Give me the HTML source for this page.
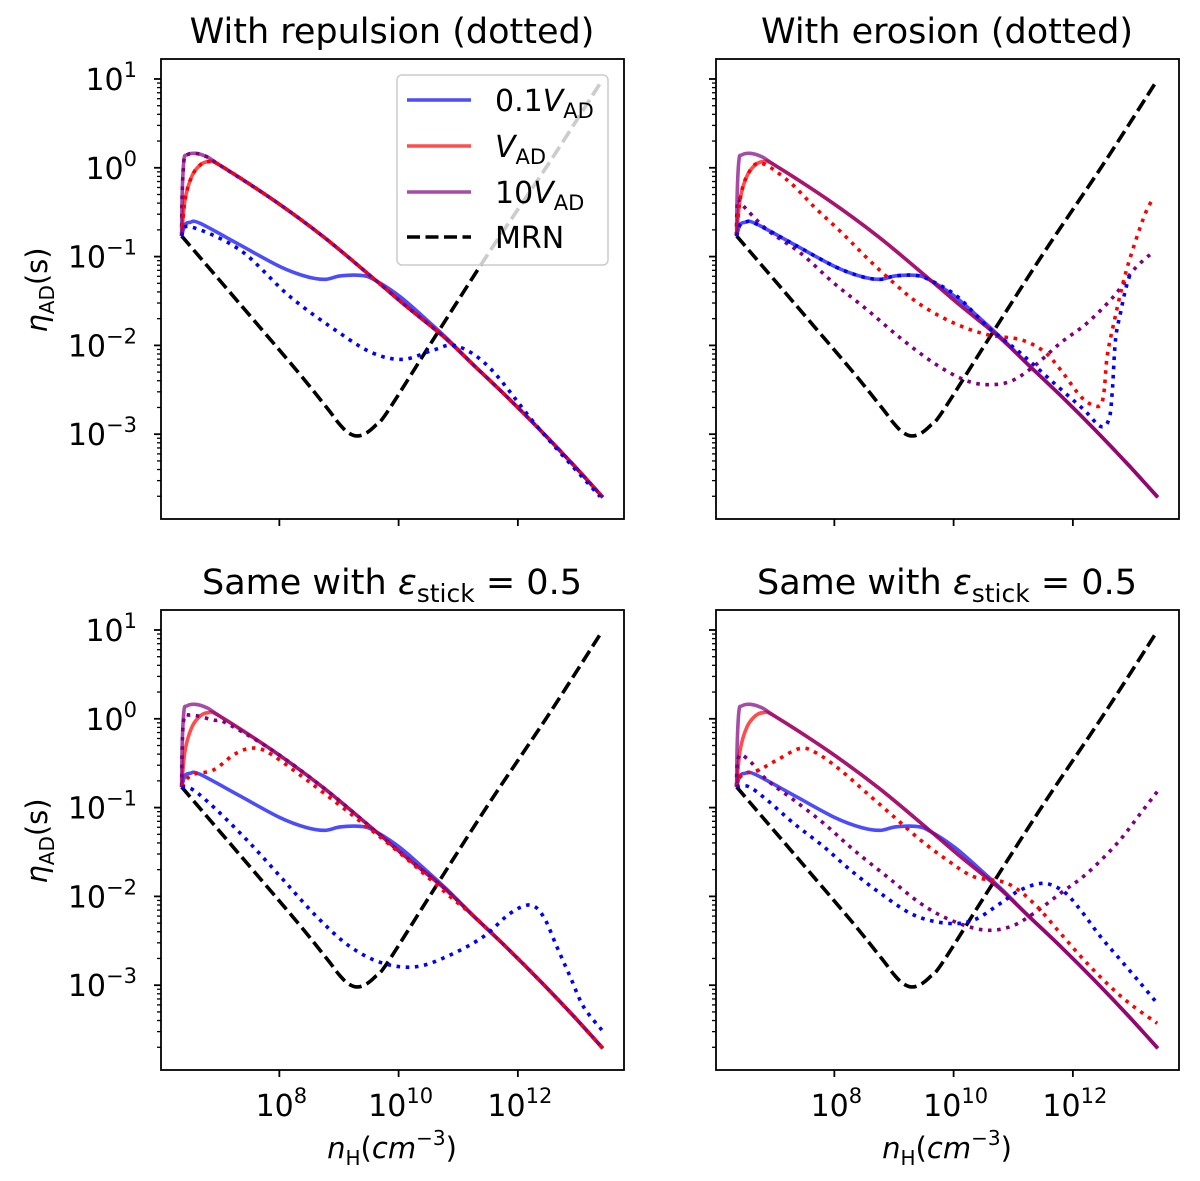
<!DOCTYPE html>
<html><head><meta charset="utf-8">
<style>
html,body{margin:0;padding:0;background:#fff;}
svg{display:block;font-family:"DejaVu Sans","Liberation Sans",sans-serif;}
</style></head>
<body>
<svg id="fig" width="1200" height="1181" viewBox="0 0 1200 1181" xmlns="http://www.w3.org/2000/svg"></svg>
<script>
// ---- data (log10 n_H, log10 eta_AD) ----
const mrnX = [6.361, 7.5, 8.3, 8.794, 9.0, 9.15, 9.3, 9.45, 9.6, 9.8, 10.5, 11.5, 12.5, 13.408];
const mrnY = [-0.768, -1.66, -2.29, -2.70, -2.88, -2.98, -3.02, -2.99, -2.91, -2.76, -2.02, -0.97, 0.03, 0.98];
const mainX = [6.361, 6.37, 6.40, 6.445, 6.585, 6.78, 7.0, 7.9, 8.738, 9.577, 10.136, 10.752, 11.255, 11.814, 12.374, 12.933, 13.425];
const mainY = [-0.768, -0.3, 0.088, 0.144, 0.163, 0.125, 0.03, -0.363, -0.776, -1.245, -1.564, -1.90, -2.22, -2.577, -2.953, -3.347, -3.711];
const redX = [6.361, 6.417, 6.529, 6.669, 6.809, 7.0, 7.9, 8.738, 9.577, 10.136, 10.752, 11.255, 11.814, 12.374, 12.933, 13.425];
const redY = [-0.768, -0.363, -0.10, 0.03, 0.069, 0.03, -0.363, -0.776, -1.245, -1.564, -1.90, -2.22, -2.577, -2.953, -3.347, -3.711];
const blueX = [6.361, 6.417, 6.501, 6.669, 7.34, 8.011, 8.459, 8.766, 9.018, 9.353, 9.577, 10.025, 10.472, 10.808, 11.255, 11.814, 12.374, 12.933, 13.425];
const blueY = [-0.768, -0.644, -0.614, -0.625, -0.869, -1.113, -1.226, -1.256, -1.218, -1.211, -1.256, -1.451, -1.714, -1.92, -2.22, -2.577, -2.953, -3.347, -3.711];
// panel 1 dotted
const p1BlueDotX = [6.361, 6.501, 7.34, 8.179, 9.018, 9.577, 10.08, 10.584, 10.975, 11.535, 12.374, 13.38];
const p1BlueDotY = [-0.768, -0.663, -0.926, -1.451, -1.864, -2.089, -2.157, -2.052, -2.007, -2.258, -2.953, -3.703];
// panel 2 dotted
const p2RedDotX = [6.356, 6.417, 6.529, 6.758, 7.234, 7.681, 8.129, 8.548, 8.996, 9.443, 10.002, 10.562, 11.121, 11.512, 11.792, 12.156, 12.435, 12.519, 12.575, 12.687, 12.855, 13.022, 13.218, 13.358];
const p2RedDotY = [-0.764, -0.363, -0.10, 0.054, -0.152, -0.453, -0.734, -1.016, -1.297, -1.541, -1.748, -1.879, -1.935, -2.067, -2.273, -2.592, -2.686, -2.536, -2.123, -1.748, -1.26, -0.884, -0.509, -0.333];
const p2BlueDotX = [6.361, 6.417, 6.501, 6.669, 7.34, 8.011, 8.459, 8.766, 9.018, 9.353, 9.577, 10.058, 10.562, 11.121, 11.68, 12.183, 12.463, 12.603, 12.659, 12.715, 12.799, 12.883, 12.966];
const p2BlueDotY = [-0.768, -0.644, -0.614, -0.625, -0.869, -1.113, -1.226, -1.256, -1.218, -1.211, -1.256, -1.447, -1.785, -2.086, -2.423, -2.724, -2.912, -2.836, -2.536, -1.935, -1.635, -1.372, -1.185];
const p2PurpDotX = [6.356, 6.378, 6.451, 6.87, 7.43, 7.989, 8.548, 9.107, 9.667, 10.17, 10.562, 10.953, 11.345, 11.792, 12.239, 12.687, 13.022, 13.358];
const p2PurpDotY = [-0.764, -0.378, -0.415, -0.697, -0.959, -1.297, -1.598, -1.917, -2.198, -2.386, -2.442, -2.405, -2.236, -1.973, -1.748, -1.447, -1.147, -0.941];
// panel 3 dotted
const p3RedDotX = [6.361, 6.529, 6.893, 7.228, 7.508, 7.787, 8.347, 9.186, 10.025, 10.864, 11.255, 11.814, 12.374, 12.933, 13.425];
const p3RedDotY = [-0.764, -0.633, -0.577, -0.408, -0.333, -0.37, -0.633, -1.065, -1.515, -2.003, -2.22, -2.577, -2.953, -3.347, -3.711];
const p3PurpDotX = [6.361, 6.389, 6.501, 6.893, 7.117, 7.9, 8.738, 9.577, 10.136, 10.752, 11.255, 11.814, 12.374, 12.933, 13.425];
const p3PurpDotY = [-0.764, -0.051, 0.043, -0.014, -0.051, -0.363, -0.776, -1.245, -1.564, -1.90, -2.22, -2.577, -2.953, -3.347, -3.711];
const p3BlueDotX = [6.361, 6.557, 6.949, 7.508, 8.067, 8.626, 9.186, 9.745, 10.304, 10.864, 11.423, 11.87, 12.206, 12.43, 12.653, 12.877, 13.101, 13.408];
const p3BlueDotY = [-0.764, -0.802, -1.027, -1.402, -1.815, -2.228, -2.566, -2.754, -2.791, -2.66, -2.453, -2.191, -2.097, -2.228, -2.566, -2.904, -3.242, -3.505];
// panel 4 dotted
const p4RedDotX = [6.356, 6.451, 6.73, 7.038, 7.43, 7.709, 8.101, 8.548, 8.996, 9.443, 9.89, 10.338, 10.897, 11.345, 11.792, 12.239, 12.687, 13.022, 13.414];
const p4RedDotY = [-0.764, -0.633, -0.577, -0.464, -0.333, -0.389, -0.577, -0.839, -1.102, -1.365, -1.59, -1.778, -1.853, -2.078, -2.416, -2.754, -3.054, -3.242, -3.429];
const p4BlueDotX = [6.356, 6.563, 6.87, 7.318, 7.821, 8.268, 8.772, 9.331, 9.89, 10.338, 10.785, 11.121, 11.512, 11.848, 12.128, 12.463, 12.799, 13.135, 13.414];
const p4BlueDotY = [-0.764, -0.764, -0.914, -1.177, -1.44, -1.703, -1.965, -2.209, -2.303, -2.266, -2.078, -1.928, -1.853, -1.947, -2.153, -2.453, -2.716, -2.979, -3.204];
const p4PurpDotX = [6.356, 6.395, 6.563, 6.87, 7.318, 7.821, 8.324, 8.884, 9.443, 9.946, 10.506, 10.953, 11.345, 11.792, 12.239, 12.743, 13.135, 13.414];
const p4PurpDotY = [-0.764, -0.426, -0.464, -0.689, -0.914, -1.177, -1.477, -1.778, -2.078, -2.266, -2.378, -2.341, -2.191, -1.965, -1.74, -1.402, -1.065, -0.821];

const xTickVals = [8, 10, 12];
const yTickVals = [1, 0, -1, -2, -3];
const titles = ["With repulsion (dotted)", "With erosion (dotted)", "Same with ε", "Same with ε"];

// ---- layout ----
const NS = "http://www.w3.org/2000/svg";
const svg = document.getElementById('fig');
const X0 = 6.015, X1 = 13.78, Y0 = -3.955, Y1 = 1.225;
const PW = 463, PH = 460;
const panels = [{l:161,t:59},{l:716,t:59},{l:161,t:610},{l:716,t:610}];
function mk(tag, attrs, parent){ const e=document.createElementNS(NS,tag); for(const k in attrs) e.setAttribute(k,attrs[k]); (parent||svg).appendChild(e); return e; }
function sx(p,v){ return p.l + (v - X0) / (X1 - X0) * PW; }
function sy(p,v){ return p.t + (Y1 - v) / (Y1 - Y0) * PH; }
function pathD(p, xs, ys){
  const pts = xs.map((x,i)=>[sx(p,x), sy(p,ys[i])]);
  let d = 'M'+pts[0][0].toFixed(2)+','+pts[0][1].toFixed(2);
  for(let i=0;i<pts.length-1;i++){
    const p0=pts[Math.max(0,i-1)], p1=pts[i], p2=pts[i+1], p3=pts[Math.min(pts.length-1,i+2)];
    const c1=[p1[0]+(p2[0]-p0[0])/6, p1[1]+(p2[1]-p0[1])/6];
    const c2=[p2[0]-(p3[0]-p1[0])/6, p2[1]-(p3[1]-p1[1])/6];
    d+=' C'+c1[0].toFixed(2)+','+c1[1].toFixed(2)+' '+c2[0].toFixed(2)+','+c2[1].toFixed(2)+' '+p2[0].toFixed(2)+','+p2[1].toFixed(2);
  }
  return d;
}
const DOT = '3.6 5.6';
const styles = {
  blue:{stroke:'#0000ff', op:0.7}, red:{stroke:'#ff0000', op:0.7}, purple:{stroke:'#800080', op:0.7},
  blueDot:{stroke:'#0000ff', op:1, dash:DOT}, redDot:{stroke:'#ff0000', op:1, dash:DOT}, purpleDot:{stroke:'#800080', op:1, dash:DOT},
  mrn:{stroke:'#000000', op:1, dash:'13 5.5'}
};
function curve(g, p, xs, ys, st, name){
  const s = styles[st];
  const a = {d:pathD(p,xs,ys), fill:'none', stroke:s.stroke, 'stroke-width':3.6, 'stroke-opacity':s.op, 'stroke-linejoin':'round'};
  if(s.dash){ a['stroke-dasharray']=s.dash; }
  const e = mk('path', a, g);
  
  
}

const dotted = [
  [[mainX,mainY,'purpleDot'],[redX,redY,'redDot'],[p1BlueDotX,p1BlueDotY,'blueDot']],
  [[p2PurpDotX,p2PurpDotY,'purpleDot'],[p2RedDotX,p2RedDotY,'redDot'],[p2BlueDotX,p2BlueDotY,'blueDot']],
  [[p3PurpDotX,p3PurpDotY,'purpleDot'],[p3RedDotX,p3RedDotY,'redDot'],[p3BlueDotX,p3BlueDotY,'blueDot']],
  [[p4PurpDotX,p4PurpDotY,'purpleDot'],[p4RedDotX,p4RedDotY,'redDot'],[p4BlueDotX,p4BlueDotY,'blueDot']]
];
const dotNames = {purpleDot:'purple-dotted-line', redDot:'red-dotted-line', blueDot:'blue-dotted-line'};

panels.forEach((p, pi)=>{
  const g = mk('g', {});
  
  
  const cid = 'clip'+pi;
  const cp = mk('clipPath', {id:cid}, g);
  mk('rect', {x:p.l, y:p.t, width:PW, height:PH}, cp);
  const plot = mk('g', {'clip-path':'url(#'+cid+')'}, g);
  
  
  curve(plot, p, mrnX, mrnY, 'mrn', 'mrn-dashed-line');
  curve(plot, p, blueX, blueY, 'blue', 'blue-solid-line');
  curve(plot, p, redX, redY, 'red', 'red-solid-line');
  curve(plot, p, mainX, mainY, 'purple', 'purple-solid-line');
  dotted[pi].forEach(c=>curve(plot, p, c[0], c[1], c[2], dotNames[c[2]]));
  const fr = mk('rect', {x:p.l, y:p.t, width:PW, height:PH, fill:'none', stroke:'#000', 'stroke-width':1.8}, g);
  
  
  for(let dec=-4; dec<=1; dec++){
    for(let m=1; m<=9; m++){
      const v = dec + Math.log10(m);
      if(v < Y0 || v > Y1) continue;
      const yy = sy(p, v);
      const len = m===1 ? 7 : 4;
      const t = mk('line', {x1:p.l-len, x2:p.l, y1:yy, y2:yy, stroke:'#000', 'stroke-width': m===1?1.8:1.3}, g);
      
      
    }
  }
  if(pi%2===0){
    yTickVals.forEach(v=>{
      const tx = mk('text', {x:p.l-24, y:sy(p,v)+11, 'font-size':30, 'text-anchor':'end', fill:'#000'}, g);
      
      
      const a = mk('tspan', {}, tx); a.textContent = '10';
      const b = mk('tspan', {'font-size':21, dy:-13}, tx); b.textContent = v<0 ? '−'+(-v) : String(v);
    });
    const yl = mk('text', {transform:'translate(47,'+(p.t+231)+') rotate(-90)', 'font-size':29, 'text-anchor':'middle', fill:'#000'}, g);
    
    
    const e1 = mk('tspan', {'font-style':'italic'}, yl); e1.textContent='η';
    const e2 = mk('tspan', {'font-size':20, dy:7}, yl); e2.textContent='AD';
    const e3 = mk('tspan', {dy:-7}, yl); e3.textContent='(s)';
  }
  xTickVals.forEach(v=>{
    const xx = sx(p, v);
    const t = mk('line', {x1:xx, x2:xx, y1:p.t+PH, y2:p.t+PH+7, stroke:'#000', 'stroke-width':1.8}, g);
    
    
    if(pi>=2){
      const tx = mk('text', {x:xx+2, y:p.t+PH+46, 'font-size':30, 'text-anchor':'middle', fill:'#000'}, g);
      
      
      const a = mk('tspan', {}, tx); a.textContent = '10';
      const b = mk('tspan', {'font-size':21, dy:-13}, tx); b.textContent = String(v);
    }
  });
  if(pi>=2){
    const xl = mk('text', {x:p.l+231, y:p.t+PH+88, 'font-size':29, 'text-anchor':'middle', fill:'#000'}, g);
    
    
    const a = mk('tspan', {'font-style':'italic'}, xl); a.textContent='n';
    const b = mk('tspan', {'font-size':20, dy:7}, xl); b.textContent='H';
    const c = mk('tspan', {dy:-7}, xl); c.textContent='(';
    const d = mk('tspan', {'font-style':'italic'}, xl); d.textContent='cm';
    const e = mk('tspan', {'font-size':20, dy:-13}, xl); e.textContent='−3';
    const f = mk('tspan', {dy:13}, xl); f.textContent=')';
  }
  const tt = mk('text', {x:p.l+231, y:p.t-16, 'font-size':35, 'text-anchor':'middle', fill:'#000'}, g);
  
  
  if(pi<2){ tt.textContent = titles[pi]; }
  else {
    const a = mk('tspan', {}, tt); a.textContent='Same with ';
    const b = mk('tspan', {'font-style':'italic'}, tt); b.textContent='ε';
    const c = mk('tspan', {'font-size':25, dy:8}, tt); c.textContent='stick';
    const d = mk('tspan', {dy:-8}, tt); d.textContent=' = 0.5';
  }
});

// legend (panel 1)
const lg = mk('g', {});


mk('rect', {x:397, y:75, width:211, height:190, rx:5, fill:'#fff', 'fill-opacity':0.8, stroke:'#cccccc', 'stroke-width':1.5}, lg);
const legLabels = [['0.1','V','AD'],['','V','AD'],['10','V','AD'],['MRN','','']];
const legStyles = ['blue','red','purple','mrn'];
const legRows = [100, 146, 192, 237];
legLabels.forEach((lab,i)=>{
  const e = mk('g', {}, lg);
  
  
  const s = styles[legStyles[i]];
  const la = {x1:407, x2:471, y1:legRows[i], y2:legRows[i], stroke:s.stroke, 'stroke-opacity':s.op, 'stroke-width':3.6};
  if(s.dash) la['stroke-dasharray']='13 5.5';
  mk('line', la, e);
  const t = mk('text', {x:495, y:legRows[i]+11, 'font-size':30, fill:'#000'}, e);
  if(lab[0]){ const a=mk('tspan',{},t); a.textContent=lab[0]; }
  if(lab[1]){ const b=mk('tspan',{'font-style':'italic'},t); b.textContent=lab[1];
    const c=mk('tspan',{'font-size':21,dy:7},t); c.textContent=lab[2]; }
});
</script>
</body></html>
